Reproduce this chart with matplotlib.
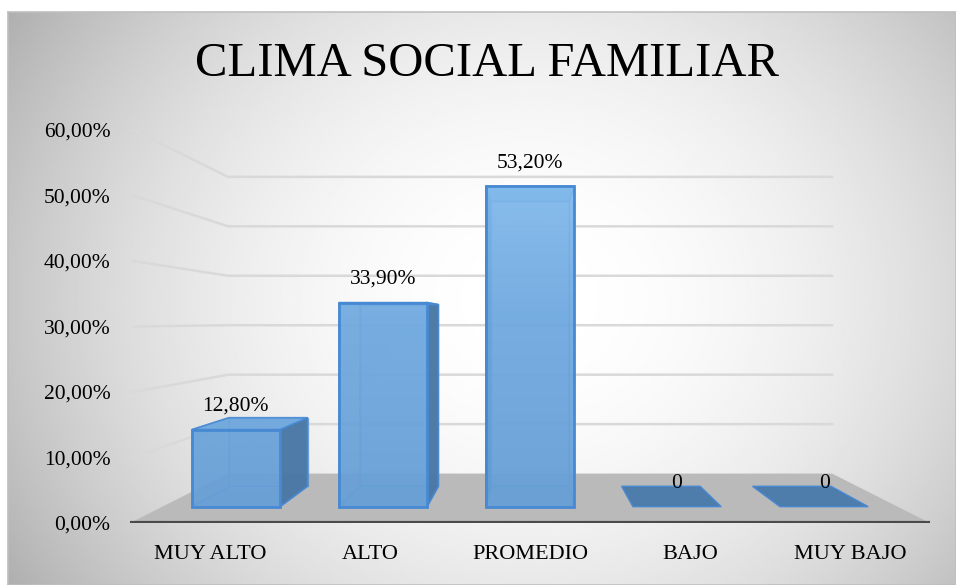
import numpy as np
import matplotlib.pyplot as plt
from matplotlib.patches import Polygon
from matplotlib.colors import LinearSegmentedColormap

plt.rcParams['font.family'] = ['Liberation Serif', 'DejaVu Serif']

categories = ['MUY ALTO', 'ALTO', 'PROMEDIO', 'BAJO', 'MUY BAJO']
values = [12.8, 33.9, 53.2, 0, 0]
value_labels = ['12,80%', '33,90%', '53,20%', '0', '0']
yticks = [0, 10, 20, 30, 40, 50, 60]
ytick_labels = ['0,00%', '10,00%', '20,00%', '30,00%', '40,00%', '50,00%', '60,00%']

W, H = 956, 585
fig = plt.figure(figsize=(W / 100, H / 100), dpi=100)

# radial grey background of the chart area
bg = fig.add_axes([8 / W, 0, 1 - 8 / W, 1 - 12 / H])
yy, xx = np.mgrid[0:1:300j, 0:1:500j]
r = np.sqrt(((xx - 0.55) / 0.52) ** 2 + ((yy - 0.5) / 0.75) ** 2)
shade = 1 - 0.2 * np.clip(r, 0, 1.4) ** 2
bg.imshow(shade, cmap='gray', vmin=0, vmax=1, aspect='auto', extent=(0, 1, 0, 1), interpolation='bilinear')
bg.set_xticks([])
bg.set_yticks([])
for sp in bg.spines.values():
    sp.set_color('#bfbfbf')
    sp.set_linewidth(1.2)

ax = fig.add_axes([130 / W, (H - 523) / H, 800 / W, 393 / H])
ax.patch.set_visible(False)
for sp in ax.spines.values():
    sp.set_visible(False)

# simple perspective: shrink toward a vanishing point with depth
VX, VY = 2.0, 30.8
S_WALL, S_FRONT, S_REAR = 0.755, 0.919, 0.818


def proj(x, v, s):
    return (VX + (x - VX) * s, VY + (v - VY) * s)


x_lo, x_hi = -0.5, len(categories) - 0.5

# floor
floor = [proj(x_lo, 0, 1), proj(x_hi, 0, 1), proj(x_hi, 0, S_WALL), proj(x_lo, 0, S_WALL)]
ax.add_patch(Polygon(floor, closed=True, facecolor='#bababa', edgecolor='none', zorder=1))
ax.plot([x_lo, x_hi], [0, 0], color='#4a4a4a', lw=3, solid_capstyle='butt', zorder=2)

# gridlines: side wall diagonal then back wall
for t in yticks[1:]:
    pts = [proj(x_lo + 0.02, t, 1), proj(x_lo, t, S_WALL), proj(x_hi, t, S_WALL)]
    ax.plot([p[0] for p in pts], [p[1] for p in pts], color='#d9d9d9', lw=1.8, zorder=0.5)

light = '#6fa7dd'
dark = '#4a77a4'
edge = '#4789d3'
face_cmap = LinearSegmentedColormap.from_list('face', ['#679fd6', '#70a9df', '#8cc3f3'])
half = 0.3
for i, v in enumerate(values):
    x0, x1 = i - half, i + half
    if v == 0:
        quad = [proj(x0, 0, S_FRONT), proj(x1, 0, S_FRONT), proj(x1, 0, S_REAR), proj(x0, 0, S_REAR)]
        ax.add_patch(Polygon(quad, closed=True, facecolor='#4f7dab', edgecolor=edge, lw=1, zorder=3))
    else:
        back = [proj(x0, 0, S_REAR), proj(x1, 0, S_REAR), proj(x1, v, S_REAR), proj(x0, v, S_REAR)]
        bottom = [proj(x0, 0, S_FRONT), proj(x1, 0, S_FRONT), proj(x1, 0, S_REAR), proj(x0, 0, S_REAR)]
        left = [proj(x0, 0, S_FRONT), proj(x0, 0, S_REAR), proj(x0, v, S_REAR), proj(x0, v, S_FRONT)]
        right = [proj(x1, 0, S_FRONT), proj(x1, 0, S_REAR), proj(x1, v, S_REAR), proj(x1, v, S_FRONT)]
        top = [proj(x0, v, S_FRONT), proj(x1, v, S_FRONT), proj(x1, v, S_REAR), proj(x0, v, S_REAR)]
        front = [proj(x0, 0, S_FRONT), proj(x1, 0, S_FRONT), proj(x1, v, S_FRONT), proj(x0, v, S_FRONT)]
        outer, inner = (right, left) if i < VX else (left, right)
        ax.add_patch(Polygon(back, closed=True, facecolor=light, edgecolor=edge, lw=1, alpha=0.6, zorder=3))
        ax.add_patch(Polygon(bottom, closed=True, facecolor=light, edgecolor=edge, lw=1, alpha=0.6, zorder=3))
        ax.add_patch(Polygon(inner, closed=True, facecolor=light, edgecolor=edge, lw=1, alpha=0.5, zorder=3))
        ax.add_patch(Polygon(outer, closed=True, facecolor=dark, edgecolor=edge, lw=1.2, alpha=0.95, zorder=4))
        ax.add_patch(Polygon(top, closed=True, facecolor=light, edgecolor=edge, lw=1.2, alpha=0.9, zorder=4))
        # front face: vertical gradient, lighter higher up
        fx = [p[0] for p in front]
        fy = [p[1] for p in front]
        grad = np.linspace(0, max(fy) / 60, 100).reshape(-1, 1)
        im = ax.imshow(grad, cmap=face_cmap, vmin=0, vmax=1, origin='lower', aspect='auto',
                       extent=(min(fx), max(fx), min(fy), max(fy)), alpha=0.88, zorder=5)
        fp = Polygon(front, closed=True, facecolor='none', edgecolor=edge, lw=2, zorder=5.5)
        ax.add_patch(fp)
        im.set_clip_path(fp)
    ax.annotate(value_labels[i], xy=proj(i, v, S_FRONT), xytext=(0, 17), textcoords='offset points',
                ha='center', va='center', fontsize=15.5, color='black', zorder=6)

ax.set_xlim(x_lo, x_hi)
ax.set_ylim(0, 60)
ax.set_yticks(yticks, ytick_labels, fontsize=15.5)
ax.set_xticks(range(len(categories)), categories, fontsize=16)
ax.tick_params(axis='y', length=0, pad=14)
ax.tick_params(axis='x', length=0, pad=16)

fig.text(487 / W, 1 - 64 / H, 'CLIMA SOCIAL FAMILIAR', ha='center', va='center', fontsize=35)

fig.savefig('out.png', dpi=100)
